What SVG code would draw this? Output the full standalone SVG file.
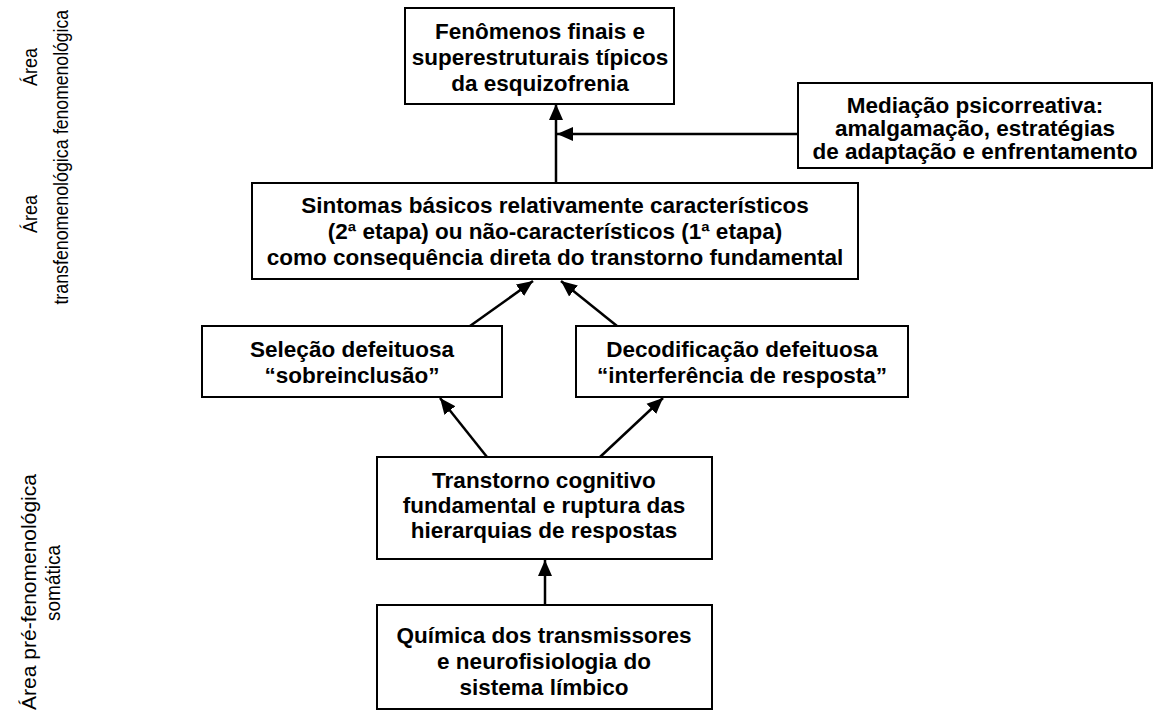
<svg xmlns="http://www.w3.org/2000/svg" width="1160" height="727" viewBox="0 0 1160 727">
  <style>
    .box { fill: #ffffff; stroke: #000000; stroke-width: 2; }
    .lbl { font-family: "Liberation Sans", Arial, sans-serif; font-size: 22.5px; font-weight: bold; fill: #000000; text-anchor: middle; }
    .side { font-family: "Liberation Sans", Arial, sans-serif; font-size: 20px; fill: #000000; text-anchor: middle; }
    .conn { fill: none; stroke: #000000; stroke-width: 2.5; marker-end: url(#head); }
  </style>
  <defs>
    <marker id="head" markerUnits="userSpaceOnUse" markerWidth="18" markerHeight="16" refX="16" refY="8" orient="auto">
      <path d="M0,1 L16,8 L0,15 Z" fill="#000000"/>
    </marker>
  </defs>
  <rect width="1160" height="727" fill="#ffffff"/>

  <!-- side area labels, read bottom to top in a narrowed face -->
  <g id="area-fenomenologica">
    <text class="side" transform="translate(37,67) rotate(-90) scale(0.9,1)">Área</text>
    <text class="side" transform="translate(68,72) rotate(-90) scale(0.88,1)">fenomenológica</text>
  </g>
  <g id="area-transfenomenologica">
    <text class="side" transform="translate(37,214) rotate(-90) scale(0.9,1)">Área</text>
    <text class="side" transform="translate(68,222) rotate(-90) scale(0.89,1)">transfenomenológica</text>
  </g>
  <g id="area-prefenomenologica">
    <text class="side" transform="translate(36,592) rotate(-90)" style="font-size:21px">Área pré-fenomenológica</text>
    <text class="side" transform="translate(60,583) rotate(-90) scale(0.95,1)">somática</text>
  </g>

  <!-- connectors -->
  <g id="connectors">
    <line class="conn" x1="556" y1="183" x2="556" y2="104"/>
    <line class="conn" x1="798" y1="134" x2="557" y2="134"/>
    <line class="conn" x1="470" y1="326" x2="533" y2="281"/>
    <line class="conn" x1="617" y1="326" x2="561" y2="281"/>
    <line class="conn" x1="487" y1="457" x2="440" y2="398"/>
    <line class="conn" x1="600" y1="457" x2="663" y2="398"/>
    <line class="conn" x1="545" y1="605" x2="545" y2="560"/>
  </g>

  <!-- nodes -->
  <g id="fenomenos-finais">
    <rect class="box" x="405" y="8" width="269" height="96"/>
    <text class="lbl" x="540" y="39">Fenômenos finais e</text>
    <text class="lbl" x="540" y="65">superestruturais típicos</text>
    <text class="lbl" x="540" y="91">da esquizofrenia</text>
  </g>
  <g id="mediacao">
    <rect class="box" x="798" y="83" width="354" height="85"/>
    <text class="lbl" x="975" y="113">Mediação psicorreativa:</text>
    <text class="lbl" x="975" y="136">amalgamação, estratégias</text>
    <text class="lbl" x="975" y="159">de adaptação e enfrentamento</text>
  </g>
  <g id="sintomas-basicos">
    <rect class="box" x="252" y="183" width="606" height="96"/>
    <text class="lbl" x="555" y="213">Sintomas básicos relativamente característicos</text>
    <text class="lbl" x="555" y="239">(2ª etapa) ou não-característicos (1ª etapa)</text>
    <text class="lbl" x="555" y="265">como consequência direta do transtorno fundamental</text>
  </g>
  <g id="selecao">
    <rect class="box" x="202" y="326" width="300" height="71"/>
    <text class="lbl" x="352" y="357">Seleção defeituosa</text>
    <text class="lbl" x="352" y="383">“sobreinclusão”</text>
  </g>
  <g id="decodificacao">
    <rect class="box" x="576" y="326" width="332" height="71"/>
    <text class="lbl" x="742" y="357">Decodificação defeituosa</text>
    <text class="lbl" x="742" y="383">“interferência de resposta”</text>
  </g>
  <g id="transtorno-cognitivo">
    <rect class="box" x="377" y="457" width="335" height="102"/>
    <text class="lbl" x="544" y="488">Transtorno cognitivo</text>
    <text class="lbl" x="544" y="513">fundamental e ruptura das</text>
    <text class="lbl" x="544" y="538">hierarquias de respostas</text>
  </g>
  <g id="quimica">
    <rect class="box" x="377" y="605" width="335" height="104"/>
    <text class="lbl" x="544" y="643">Química dos transmissores</text>
    <text class="lbl" x="544" y="669">e neurofisiologia do</text>
    <text class="lbl" x="544" y="695">sistema límbico</text>
  </g>
</svg>
